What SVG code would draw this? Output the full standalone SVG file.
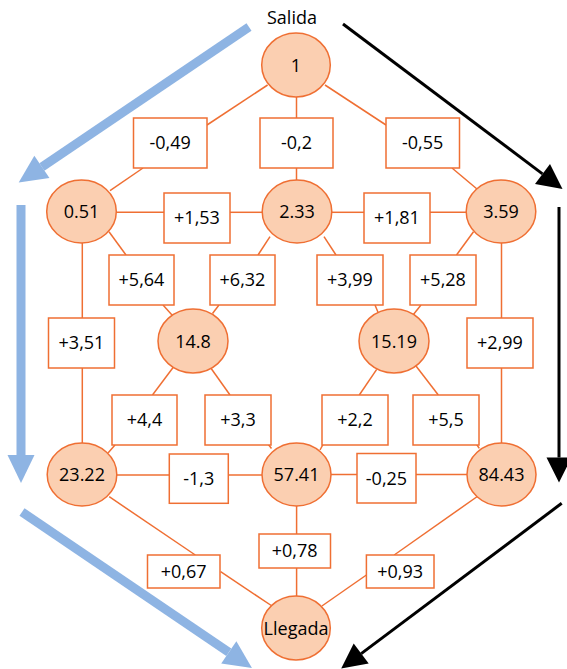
<svg xmlns="http://www.w3.org/2000/svg" width="567" height="669" viewBox="0 0 567 669">
<style>
text{font-family:"Open Sans","DejaVu Sans",sans-serif;font-size:18px;fill:#000;text-anchor:middle}
.n ellipse{fill:#FBCFB1;stroke:#EF6F33;stroke-width:1.5}
.b rect{fill:#fff;stroke:#EF6F33;stroke-width:1.5}
.e line{stroke:#EF6F33;stroke-width:1.5}
.blue{stroke:#8EB4E3;stroke-width:9;fill:none}
.blk{stroke:#000;stroke-width:3;fill:none}
</style>
<defs>
<marker id="hb" markerUnits="userSpaceOnUse" markerWidth="28" markerHeight="27" refX="0" refY="13.5" orient="auto" overflow="visible">
<path d="M0,0 L28,13.5 L0,27 Z" fill="#8EB4E3"/>
</marker>
<marker id="hk" markerUnits="userSpaceOnUse" markerWidth="25" markerHeight="25" refX="0" refY="12.5" orient="auto" overflow="visible">
<path d="M0,0 L25,12.5 L0,25 Z" fill="#000"/>
</marker>
</defs>
<g id="connectors">
<g class="e">
<line x1="267.6" y1="85" x2="207" y2="125"/>
<line x1="143" y1="168" x2="110" y2="190.7"/>
<line x1="296.5" y1="97" x2="296.5" y2="118"/>
<line x1="296.5" y1="168" x2="296.5" y2="180"/>
<line x1="325" y1="85" x2="386" y2="125"/>
<line x1="452" y1="168" x2="477" y2="189"/>
<line x1="116" y1="212.3" x2="164" y2="212.3"/>
<line x1="230" y1="212.3" x2="262" y2="212.3"/>
<line x1="332" y1="212.3" x2="364" y2="212.3"/>
<line x1="430" y1="212.3" x2="466" y2="212.3"/>
<line x1="109" y1="231.7" x2="126" y2="255"/>
<line x1="163" y1="305" x2="172" y2="315"/>
<line x1="270" y1="236.7" x2="258" y2="255"/>
<line x1="219" y1="305" x2="212.5" y2="313.5"/>
<line x1="324" y1="236.7" x2="336" y2="255"/>
<line x1="375" y1="305" x2="378.5" y2="313.5"/>
<line x1="473.5" y1="231.7" x2="456.5" y2="255"/>
<line x1="421" y1="305" x2="413" y2="315"/>
<line x1="82.3" y1="243" x2="82.3" y2="318"/>
<line x1="82.3" y1="368" x2="82.3" y2="443"/>
<line x1="501.5" y1="243" x2="501.5" y2="318"/>
<line x1="501.5" y1="368" x2="501.5" y2="443"/>
<line x1="173.3" y1="367.3" x2="152.5" y2="395"/>
<line x1="115" y1="445" x2="108" y2="453"/>
<line x1="211" y1="368.3" x2="230" y2="395"/>
<line x1="268" y1="444" x2="271.5" y2="448.5"/>
<line x1="376.7" y1="369.3" x2="359.3" y2="395"/>
<line x1="323" y1="444.5" x2="320" y2="450"/>
<line x1="416" y1="366" x2="438.3" y2="395"/>
<line x1="476.7" y1="444.5" x2="479.3" y2="448.3"/>
<line x1="116.7" y1="475" x2="169" y2="475"/>
<line x1="228" y1="475" x2="262" y2="475"/>
<line x1="331" y1="474.5" x2="357" y2="474.5"/>
<line x1="416" y1="474.5" x2="467" y2="474.5"/>
<line x1="109.2" y1="496.7" x2="195.3" y2="555"/>
<line x1="220.6" y1="571.7" x2="272" y2="606"/>
<line x1="296.6" y1="506" x2="296.6" y2="534"/>
<line x1="296.6" y1="568" x2="296.6" y2="596"/>
<line x1="478" y1="496" x2="394.2" y2="555"/>
<line x1="366.4" y1="575" x2="321.9" y2="606"/>
</g>
<line class="blue" x1="249" y1="27" x2="41.9" y2="166.9" marker-end="url(#hb)"/>
<line class="blue" x1="21" y1="205" x2="21" y2="455" marker-end="url(#hb)"/>
<line class="blue" x1="22" y1="512" x2="228.8" y2="652.3" marker-end="url(#hb)"/>
<line class="blk" x1="343" y1="24" x2="542.5" y2="173.9" marker-end="url(#hk)"/>
<line class="blk" x1="559" y1="207" x2="559" y2="457.5" marker-end="url(#hk)"/>
<line class="blk" x1="561.7" y1="503.3" x2="361.2" y2="653.6" marker-end="url(#hk)"/>
</g>
<g id="label-salida"><text x="292" y="24.3">Salida</text></g>
<g id="b049" class="b"><rect x="133.5" y="118" width="73.5" height="50"/><text x="170.2" y="149">-0,49</text></g>
<g id="b02" class="b"><rect x="260" y="118" width="73" height="50"/><text x="296.5" y="149">-0,2</text></g>
<g id="b055" class="b"><rect x="386" y="118" width="73.5" height="50"/><text x="422.7" y="149">-0,55</text></g>
<g id="b153" class="b"><rect x="164" y="193" width="66" height="50"/><text x="197" y="224">+1,53</text></g>
<g id="b181" class="b"><rect x="364" y="193" width="66" height="50"/><text x="397" y="224">+1,81</text></g>
<g id="b564" class="b"><rect x="109" y="255" width="65" height="50"/><text x="141.5" y="286">+5,64</text></g>
<g id="b632" class="b"><rect x="210" y="255" width="65" height="50"/><text x="242.5" y="286">+6,32</text></g>
<g id="b399" class="b"><rect x="317" y="255" width="66" height="50"/><text x="350" y="286">+3,99</text></g>
<g id="b528" class="b"><rect x="410" y="255" width="66" height="50"/><text x="443" y="286">+5,28</text></g>
<g id="b351" class="b"><rect x="48.5" y="318" width="66" height="50"/><text x="81.5" y="349">+3,51</text></g>
<g id="b299" class="b"><rect x="467" y="318" width="66" height="50"/><text x="500" y="349">+2,99</text></g>
<g id="b44" class="b"><rect x="112" y="395" width="65" height="50"/><text x="144.5" y="426">+4,4</text></g>
<g id="b33" class="b"><rect x="205" y="395" width="66" height="50"/><text x="238" y="426">+3,3</text></g>
<g id="b22" class="b"><rect x="322" y="395" width="66" height="50"/><text x="355" y="426">+2,2</text></g>
<g id="b55" class="b"><rect x="413" y="395" width="66" height="50"/><text x="446" y="426">+5,5</text></g>
<g id="b13" class="b"><rect x="169.3" y="454" width="59" height="49.3"/><text x="198.8" y="484.5">-1,3</text></g>
<g id="b025" class="b"><rect x="357" y="453.5" width="59" height="49.5"/><text x="386.5" y="484.5">-0,25</text></g>
<g id="b078" class="b"><rect x="259" y="534" width="71.5" height="34"/><text x="294.7" y="557">+0,78</text></g>
<g id="b067" class="b"><rect x="147.5" y="555" width="72.5" height="33"/><text x="183.7" y="577.5">+0,67</text></g>
<g id="b093" class="b"><rect x="366.4" y="555" width="67.6" height="33"/><text x="400.2" y="577.5">+0,93</text></g>
<g id="n1" class="n"><ellipse cx="296" cy="65" rx="34.3" ry="32"/><text x="296" y="71.5">1</text></g>
<g id="n051" class="n"><ellipse cx="81.5" cy="211.5" rx="34.8" ry="31.5"/><text x="81.5" y="218">0.51</text></g>
<g id="n233" class="n"><ellipse cx="297" cy="211.5" rx="34.8" ry="31.5"/><text x="297" y="218">2.33</text></g>
<g id="n359" class="n"><ellipse cx="501" cy="211.5" rx="34.8" ry="31.5"/><text x="501" y="218">3.59</text></g>
<g id="n148" class="n"><ellipse cx="193" cy="341" rx="35" ry="32"/><text x="193" y="347.5">14.8</text></g>
<g id="n1519" class="n"><ellipse cx="394" cy="341" rx="35" ry="32"/><text x="394" y="347.5">15.19</text></g>
<g id="n2322" class="n"><ellipse cx="82" cy="474.5" rx="34.8" ry="31.5"/><text x="82" y="481">23.22</text></g>
<g id="n5741" class="n"><ellipse cx="296.5" cy="474.5" rx="34.5" ry="31.5"/><text x="296.5" y="481">57.41</text></g>
<g id="n8443" class="n"><ellipse cx="501.5" cy="474.5" rx="34.5" ry="31.5"/><text x="501.5" y="481">84.43</text></g>
<g id="nLlegada" class="n"><ellipse cx="296" cy="628" rx="34.3" ry="32"/><text x="296" y="634.5">Llegada</text></g>
</svg>
